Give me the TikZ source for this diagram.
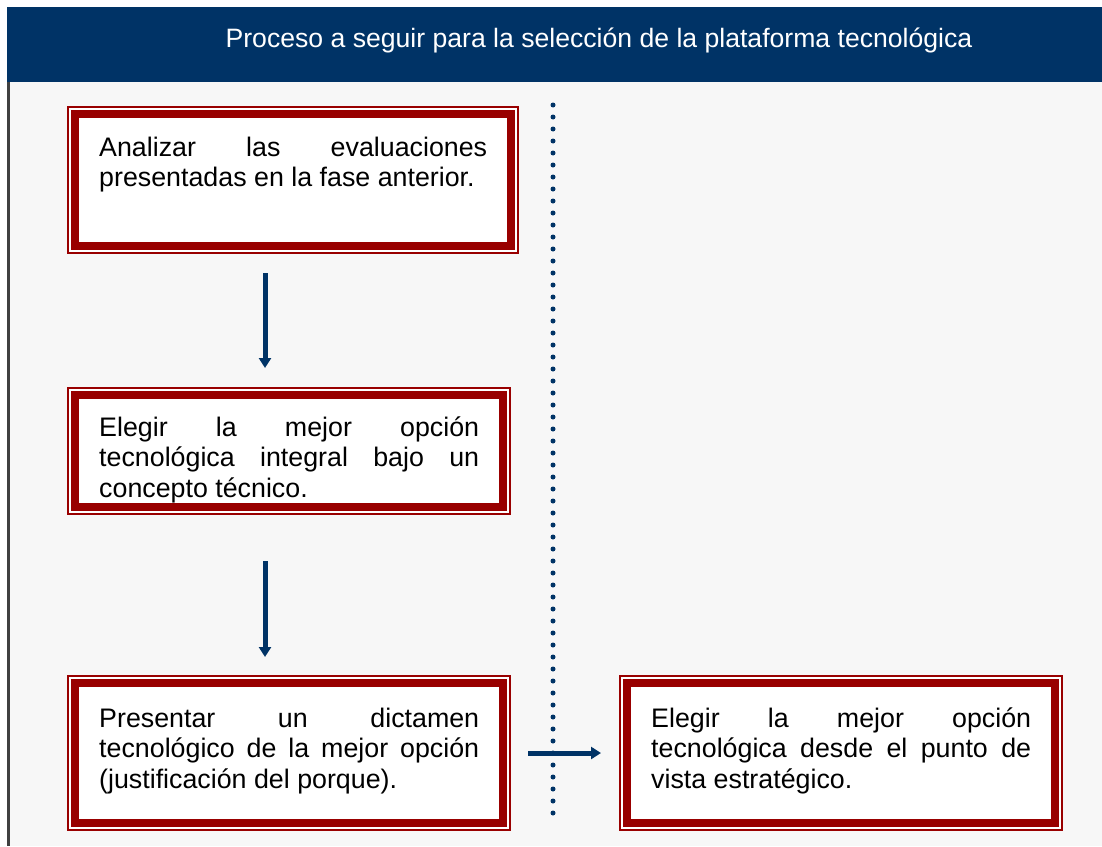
\documentclass[tikz,border=0pt]{standalone}
\usepackage{fontspec}
\setmainfont{Liberation Sans}
\usetikzlibrary{arrows.meta}
\definecolor{navy}{HTML}{003366}
\definecolor{boxred}{HTML}{990000}
\definecolor{bodybg}{HTML}{F7F7F7}
\definecolor{edgegray}{HTML}{404040}
\tikzset{
  band/.style={draw=boxred, line width=8pt, fill=white, rectangle, outer sep=0pt, inner sep=0pt},
  thinframe/.style={draw=boxred, line width=2pt, fill=white},
  boxtext/.style={anchor=base west, inner sep=0pt, font=\fontsize{26.8}{30.5}\selectfont, align=justify},
  flowarrow/.style={draw=navy, line width=5pt, -{Triangle[length=10pt,width=12pt]}},
  dotline/.style={draw=navy, line width=5pt, line cap=round, dash pattern=on 0pt off 12pt}
}
\begin{document}
\begin{tikzpicture}[x=1pt,y=-1pt]
\useasboundingbox (0,0) rectangle (1102,846);
\fill[white] (0,0) rectangle (1102,846);
% body
\fill[bodybg] (7,82) rectangle (1102,846);
\fill[edgegray] (7,82) rectangle (10,846);
% header
\fill[navy] (7,7) rectangle (1102,82);
\node[font=\fontsize{26.6}{30}\selectfont, text=white, inner sep=0pt] (title) at (599,40) {Proceso a seguir para la selección de la plataforma tecnológica};
% dotted divider
\coordinate (d1) at (553,105);
\coordinate (d2) at (553,813);
\draw[dotline] (d1) -- (d2);
% box 1
\draw[thinframe] (68,107) rectangle (518,253);
\node[band, minimum width=436pt, minimum height=132pt] (b1) at (293,180) {};
\node[boxtext, text width=388pt] (t1) at (99,156) {Analizar las evaluaciones\linebreak presentadas en la fase anterior.};
% box 2
\draw[thinframe] (68,388) rectangle (510,514);
\node[band, minimum width=428pt, minimum height=112pt] (b2) at (289,451) {};
\node[boxtext, text width=380pt] (t2) at (99,436) {Elegir la mejor opción\linebreak tecnológica integral bajo un\linebreak concepto técnico.};
% box 3
\draw[thinframe] (68,676) rectangle (510,830);
\node[band, minimum width=428pt, minimum height=140pt] (b3) at (289,753) {};
\node[boxtext, text width=380pt] (t3) at (99,727) {Presentar un dictamen\linebreak tecnológico de la mejor opción\linebreak (justificación del porque).};
% box 4
\draw[thinframe] (620,676) rectangle (1062,830);
\node[band, minimum width=428pt, minimum height=140pt] (b4) at (841,753) {};
\node[boxtext, text width=380pt] (t4) at (651,727) {Elegir la mejor opción\linebreak tecnológica desde el punto de\linebreak vista estratégico.};
% arrows
\coordinate (a1s) at (265,273);
\coordinate (a1e) at (265,368);
\coordinate (a2s) at (265,561);
\coordinate (a2e) at (265,657);
\coordinate (a3s) at (528,753);
\coordinate (a3e) at (601,753);
\draw[flowarrow] (a1s) -- (a1e);
\draw[flowarrow] (a2s) -- (a2e);
\draw[flowarrow] (a3s) -- (a3e);
\end{tikzpicture}
\end{document}
